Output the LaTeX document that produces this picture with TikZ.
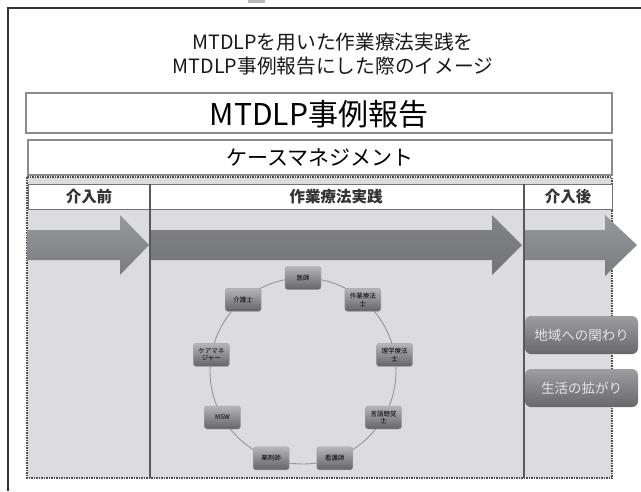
\documentclass[tikz,border=0pt]{standalone}
\usepackage{fontspec}
\newfontfamily\jp{Noto Sans CJK JP}
\definecolor{bodygray}{RGB}{220,220,222}
\definecolor{framedark}{RGB}{50,50,50}
\definecolor{boxline}{RGB}{140,140,142}
\definecolor{arrowtop}{RGB}{152,153,156}
\definecolor{arrowbot}{RGB}{122,123,126}
\definecolor{memtop}{RGB}{182,182,184}
\definecolor{membot}{RGB}{100,100,102}
\definecolor{sidetop}{RGB}{158,158,160}
\definecolor{sidebot}{RGB}{104,104,106}
\definecolor{sidetext}{RGB}{228,228,228}
\definecolor{ringgray}{RGB}{150,150,152}
\tikzset{
  titletext/.style={font=\jp\fontsize{19.7}{23}\selectfont, text=black!90, inner sep=0pt},
  bigbox/.style={draw=boxline, line width=2.5pt, fill=white},
  cmbox/.style={draw=boxline, line width=1.4pt, fill=white},
  headtext/.style={font=\jp\bfseries\fontsize{15.5}{17}\selectfont, text=black!80, inner sep=0pt},
  bigarrow/.style={top color=arrowtop, bottom color=arrowbot, draw=none},
  member/.style={rounded corners=2.5pt, minimum width=36pt, minimum height=23pt, inner sep=1pt,
    top color=memtop, bottom color=membot, draw=gray!70, line width=0.4pt,
    font=\jp\fontsize{6.5}{7.5}\selectfont, align=center, text=black},
  sidebox/.style={rounded corners=6pt, minimum width=113pt, minimum height=38pt, inner sep=0pt,
    top color=sidetop, bottom color=sidebot, draw=none,
    font=\jp\fontsize{13.5}{15}\selectfont, text=sidetext},
  colline/.style={draw=black!65, line width=1.2pt},
  dashborder/.style={draw=black!70, line width=1.5pt, dash pattern=on 1.5pt off 1pt},
}
\begin{document}
\begin{tikzpicture}[x=1pt,y=-1pt]
\useasboundingbox (0,0) rectangle (641,491);
\fill[white] (0,0) rectangle (641,491);
% outer frame
\draw[framedark, line width=1.5pt] (8,491) -- (8,8) -- (641,8);
\fill[gray!55] (248,0) rectangle (265,3);
% titles
\node[titletext] (title1) at (333,42) {MTDLPを用いた作業療法実践を};
\node[titletext] (title2) at (333,66) {MTDLP事例報告にした際のイメージ};
% report box
\draw[bigbox] (26,93) rectangle (612,133);
\node[font=\jp\fontsize{30}{34}\selectfont, inner sep=0pt] (report) at (319,114) {MTDLP事例報告};
% case management box
\draw[cmbox] (28,140) rectangle (612,175);
\node[font=\jp\fontsize{21}{24}\selectfont, inner sep=0pt] (casem) at (320,158) {ケースマネジメント};
% body area
\fill[bodygray] (27,177) rectangle (612,478);
\draw[dashborder] (27,177) rectangle (612,478);
% header row
\draw[fill=white, draw=black!55, line width=0.9pt] (28,184) rectangle (612,209);
\draw[colline] (150,184) -- (150,478);
\draw[colline] (524,184) -- (524,478);
\node[headtext] (hbefore) at (89,197) {介入前};
\node[headtext] (hpractice) at (336,197) {作業療法実践};
\node[headtext] (hafter) at (568,197) {介入後};
% arrows
\shade[bigarrow] (27,230) -- (120,230) -- (120,215) -- (149,245) -- (120,275) -- (120,260) -- (27,260) -- cycle;
\shade[bigarrow, top color=arrowtop!85!black, bottom color=arrowbot!95!black] (151,230) -- (492,230) -- (492,215) -- (522,245) -- (492,275) -- (492,260) -- (151,260) -- cycle;
\shade[bigarrow] (525,230) -- (605,230) -- (605,215) -- (637,245) -- (605,276) -- (605,260) -- (525,260) -- cycle;
% ring
\coordinate (ringc) at (303,371);
\draw[ringgray, line width=0.9pt] (ringc) circle [radius=93pt];
\node[member] (doctor) at (303,278) {医師};
\node[member] (ot) at (362.8,299.8) {作業療法\\士};
\node[member] (pt) at (394.6,354.9) {理学療法\\士};
\node[member] (st) at (383.5,417.5) {言語聴覚\\士};
\node[member] (nurse) at (334.8,458.4) {看護師};
\node[member] (pharm) at (271.2,458.4) {薬剤師};
\node[member] (msw) at (222.5,417.5) {MSW};
\node[member] (cmgr) at (211.4,354.9) {ケアマネ\\ジャー};
\node[member] (care) at (243.2,299.8) {介護士};
% side boxes
\node[sidebox] (community) at (581.5,335) {地域への関わり};
\node[sidebox] (life) at (581.5,388) {生活の拡がり};
\end{tikzpicture}
\end{document}
